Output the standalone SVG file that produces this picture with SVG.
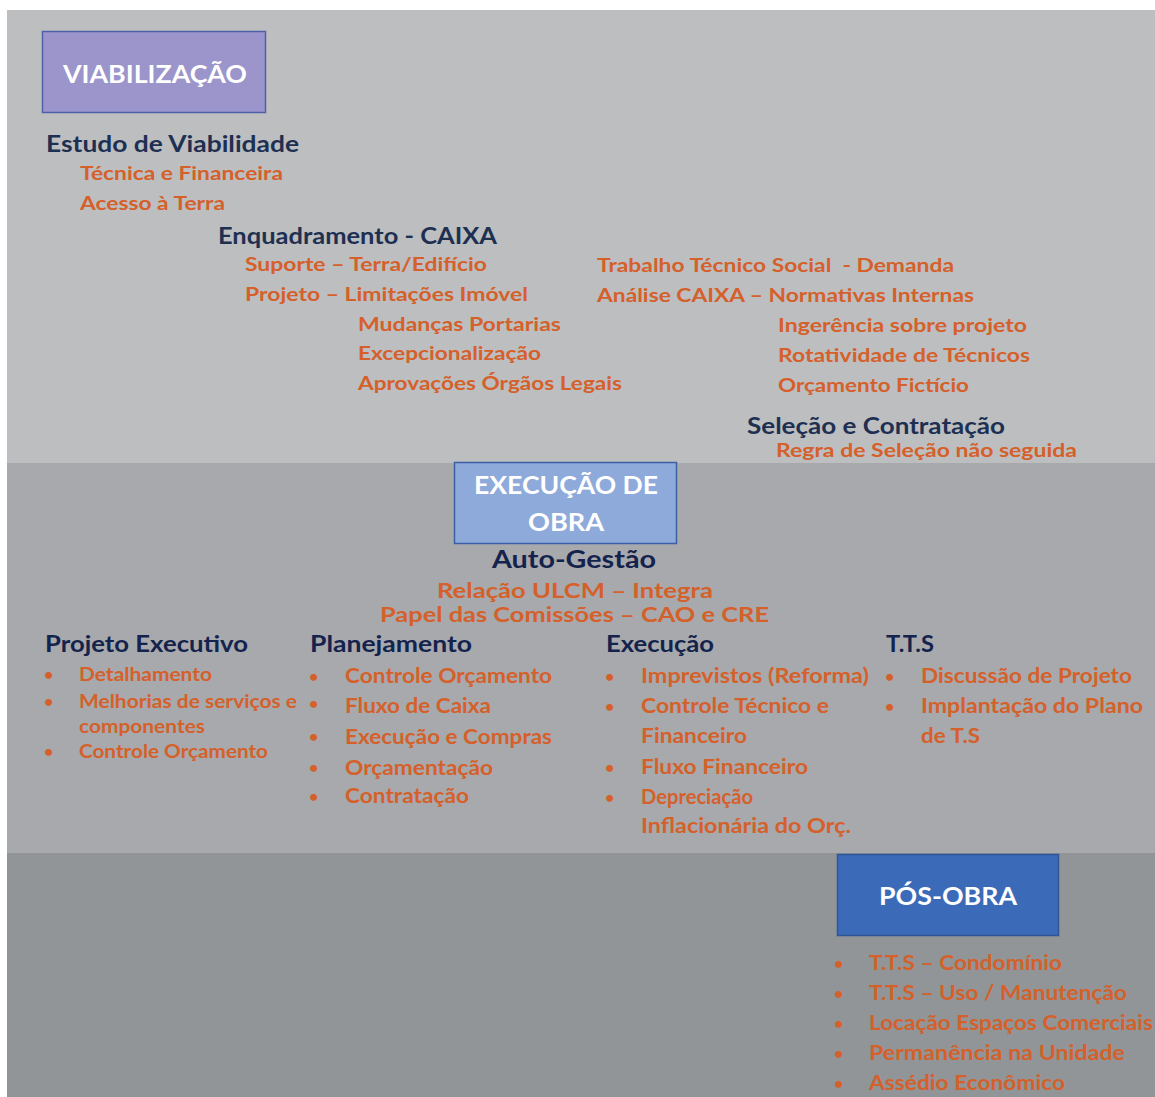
<svg xmlns="http://www.w3.org/2000/svg" width="1155" height="1097" viewBox="0 0 1155 1097">
<style>
text{font-family:Lato,"Open Sans","Liberation Sans",sans-serif;font-weight:700}
.h{fill:#1e3052;font-size:22px}
.hd{fill:#14234d;font-size:22px}
.o{fill:#d5602a;font-size:19.5px}
.o2{fill:#d5602a;font-size:20px}
.o3{fill:#d5602a;font-size:18.5px}
.w{fill:#ffffff;font-size:25px;text-anchor:middle}
.b{fill:#d5602a;font-size:16px}
</style>
<rect width="1155" height="1097" fill="#ffffff"/>
<rect x="7" y="10" width="1148" height="453" fill="#bdbec0"/>
<rect x="7" y="463" width="1148" height="390" fill="#a8a9ac"/>
<rect x="7" y="853" width="1148" height="244" fill="#929597"/>

<g id="viabilizacao">
<rect x="42.5" y="31.5" width="223" height="81" fill="#9b95cb" stroke="#4f5fa8" stroke-width="1.5"/>
<text class="w" x="155" y="83" textLength="184" lengthAdjust="spacingAndGlyphs">VIABILIZAÇÃO</text>
</g>
<g id="estudo">
<text class="h" x="46" y="152" textLength="253" lengthAdjust="spacingAndGlyphs">Estudo de Viabilidade</text>
<text class="o" x="80" y="180" textLength="203" lengthAdjust="spacingAndGlyphs">Técnica e Financeira</text>
<text class="o" x="80" y="210" textLength="145" lengthAdjust="spacingAndGlyphs">Acesso à Terra</text>
</g>
<g id="enquadramento">
<text class="h" x="218" y="244" textLength="279" lengthAdjust="spacingAndGlyphs">Enquadramento - CAIXA</text>
<text class="o" x="245" y="271" textLength="242" lengthAdjust="spacingAndGlyphs">Suporte – Terra/Edifício</text>
<text class="o" x="245" y="301" textLength="283" lengthAdjust="spacingAndGlyphs">Projeto – Limitações Imóvel</text>
<text class="o" x="358" y="331" textLength="203" lengthAdjust="spacingAndGlyphs">Mudanças Portarias</text>
<text class="o" x="358" y="360" textLength="183" lengthAdjust="spacingAndGlyphs">Excepcionalização</text>
<text class="o" x="358" y="390" textLength="264" lengthAdjust="spacingAndGlyphs">Aprovações Órgãos Legais</text>
</g>
<g id="tts-caixa">
<text class="o" x="597" y="272" xml:space="preserve" textLength="357" lengthAdjust="spacingAndGlyphs">Trabalho Técnico Social  - Demanda</text>
<text class="o" x="597" y="302" textLength="377" lengthAdjust="spacingAndGlyphs">Análise CAIXA – Normativas Internas</text>
<text class="o" x="778" y="332" textLength="249" lengthAdjust="spacingAndGlyphs">Ingerência sobre projeto</text>
<text class="o" x="778" y="362" textLength="252" lengthAdjust="spacingAndGlyphs">Rotatividade de Técnicos</text>
<text class="o" x="778" y="392" textLength="191" lengthAdjust="spacingAndGlyphs">Orçamento Fictício</text>
</g>
<g id="selecao">
<text class="h" x="747" y="434" textLength="258" lengthAdjust="spacingAndGlyphs">Seleção e Contratação</text>
<text class="o" x="776" y="457" textLength="301" lengthAdjust="spacingAndGlyphs">Regra de Seleção não seguida</text>
</g>

<g id="execucao-obra">
<rect x="454.5" y="462.5" width="222" height="81" fill="#8eaadb" stroke="#3d5fa6" stroke-width="1.5"/>
<text class="w" x="566" y="494" textLength="184" lengthAdjust="spacingAndGlyphs">EXECUÇÃO DE</text>
<text class="w" x="566" y="531" textLength="76" lengthAdjust="spacingAndGlyphs">OBRA</text>
</g>
<g id="auto-gestao">
<text class="hd" x="492" y="568" style="font-size:25px" textLength="164" lengthAdjust="spacingAndGlyphs">Auto-Gestão</text>
<text class="o" x="437" y="598" style="font-size:21.5px" textLength="276" lengthAdjust="spacingAndGlyphs">Relação ULCM – Integra</text>
<text class="o" x="380" y="622" style="font-size:21.5px" textLength="389" lengthAdjust="spacingAndGlyphs">Papel das Comissões – CAO e CRE</text>
</g>
<g id="projeto-executivo">
<text class="hd" x="45" y="652" textLength="203" lengthAdjust="spacingAndGlyphs">Projeto Executivo</text>
<text class="b" x="44" y="680">•</text>
<text class="o3" x="79" y="681" textLength="133" lengthAdjust="spacingAndGlyphs">Detalhamento</text>
<text class="b" x="44" y="707">•</text>
<text class="o3" x="79" y="708" textLength="218" lengthAdjust="spacingAndGlyphs">Melhorias de serviços e</text>
<text class="o3" x="79" y="733" textLength="126" lengthAdjust="spacingAndGlyphs">componentes</text>
<text class="b" x="44" y="757">•</text>
<text class="o3" x="79" y="758" textLength="189" lengthAdjust="spacingAndGlyphs">Controle Orçamento</text>
</g>
<g id="planejamento">
<text class="hd" x="310" y="652" textLength="162" lengthAdjust="spacingAndGlyphs">Planejamento</text>
<text class="b" x="309" y="682">•</text>
<text class="o2" x="345" y="683" textLength="207" lengthAdjust="spacingAndGlyphs">Controle Orçamento</text>
<text class="b" x="309" y="709">•</text>
<text class="o2" x="345" y="713" textLength="146" lengthAdjust="spacingAndGlyphs">Fluxo de Caixa</text>
<text class="b" x="309" y="742">•</text>
<text class="o2" x="345" y="744" textLength="207" lengthAdjust="spacingAndGlyphs">Execução e Compras</text>
<text class="b" x="309" y="773">•</text>
<text class="o2" x="345" y="775" textLength="148" lengthAdjust="spacingAndGlyphs">Orçamentação</text>
<text class="b" x="309" y="802">•</text>
<text class="o2" x="345" y="803" textLength="124" lengthAdjust="spacingAndGlyphs">Contratação</text>
</g>
<g id="execucao">
<text class="hd" x="606" y="652" textLength="108" lengthAdjust="spacingAndGlyphs">Execução</text>
<text class="b" x="605" y="682">•</text>
<text class="o2" x="641" y="683" textLength="228" lengthAdjust="spacingAndGlyphs">Imprevistos (Reforma)</text>
<text class="b" x="605" y="712">•</text>
<text class="o2" x="641" y="713" textLength="188" lengthAdjust="spacingAndGlyphs">Controle Técnico e</text>
<text class="o2" x="641" y="743" textLength="106" lengthAdjust="spacingAndGlyphs">Financeiro</text>
<text class="b" x="605" y="773">•</text>
<text class="o2" x="641" y="774" textLength="167" lengthAdjust="spacingAndGlyphs">Fluxo Financeiro</text>
<text class="b" x="605" y="803">•</text>
<text class="o2" x="641" y="804" textLength="112" lengthAdjust="spacingAndGlyphs">Depreciação</text>
<text class="o2" x="641" y="833" textLength="210" lengthAdjust="spacingAndGlyphs">Inflacionária do Orç.</text>
</g>
<g id="tts">
<text class="hd" x="886" y="652" textLength="48" lengthAdjust="spacingAndGlyphs">T.T.S</text>
<text class="b" x="885" y="682">•</text>
<text class="o2" x="921" y="683" textLength="211" lengthAdjust="spacingAndGlyphs">Discussão de Projeto</text>
<text class="b" x="885" y="712">•</text>
<text class="o2" x="921" y="713" textLength="222" lengthAdjust="spacingAndGlyphs">Implantação do Plano</text>
<text class="o2" x="921" y="743" textLength="59" lengthAdjust="spacingAndGlyphs">de T.S</text>
</g>

<g id="pos-obra">
<rect x="837.5" y="854.5" width="221" height="81" fill="#3b6ab8" stroke="#2f5597" stroke-width="1.5"/>
<text class="w" x="948" y="905" textLength="138" lengthAdjust="spacingAndGlyphs">PÓS-OBRA</text>
</g>
<g id="pos-obra-itens">
<text class="b" x="834" y="969">•</text>
<text class="o2" x="869" y="970" textLength="193" lengthAdjust="spacingAndGlyphs">T.T.S – Condomínio</text>
<text class="b" x="834" y="999">•</text>
<text class="o2" x="869" y="1000" textLength="258" lengthAdjust="spacingAndGlyphs">T.T.S – Uso / Manutenção</text>
<text class="b" x="834" y="1029">•</text>
<text class="o2" x="869" y="1030" textLength="284" lengthAdjust="spacingAndGlyphs">Locação Espaços Comerciais</text>
<text class="b" x="834" y="1059">•</text>
<text class="o2" x="869" y="1060" textLength="256" lengthAdjust="spacingAndGlyphs">Permanência na Unidade</text>
<text class="b" x="834" y="1089">•</text>
<text class="o2" x="869" y="1090" textLength="196" lengthAdjust="spacingAndGlyphs">Assédio Econômico</text>
</g>
<g id="connectors"></g>
</svg>
